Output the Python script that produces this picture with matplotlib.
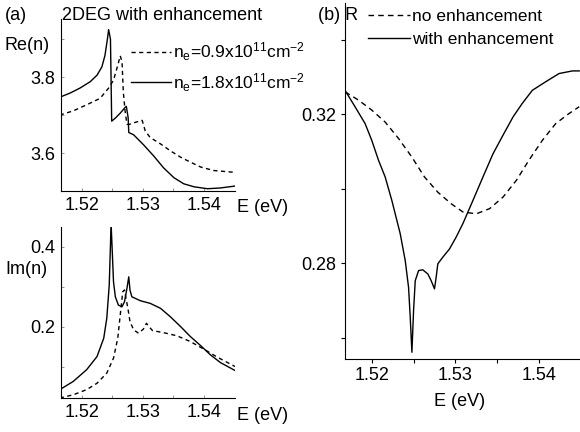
import numpy as np
import matplotlib
matplotlib.use('Agg')
import matplotlib.pyplot as plt
from matplotlib.lines import Line2D

plt.rcParams['font.family'] = ['Liberation Sans', 'DejaVu Sans']
plt.rcParams['mathtext.fontset'] = 'custom'
plt.rcParams['mathtext.rm'] = 'Liberation Sans'
plt.rcParams['mathtext.it'] = 'Liberation Sans'
plt.rcParams['font.size'] = 13

# Re(n), n_e = 1.8e11 (solid)
re_hi_E = [1.5164, 1.5181, 1.5197, 1.5214, 1.5225, 1.5233, 1.5238, 1.5242, 1.5244, 1.5247,
           1.5248, 1.5249, 1.5255, 1.5263, 1.5271, 1.5273, 1.5276, 1.5277, 1.5285, 1.5301,
           1.5318, 1.5334, 1.5351, 1.5367, 1.5384, 1.5406, 1.5427, 1.5451]
re_hi = [3.747, 3.758, 3.771, 3.788, 3.805, 3.827, 3.857, 3.900, 3.925, 3.900,
         3.797, 3.684, 3.692, 3.705, 3.720, 3.723, 3.693, 3.654, 3.648, 3.622,
         3.592, 3.561, 3.535, 3.519, 3.511, 3.506, 3.508, 3.513]
# Re(n), n_e = 0.9e11 (dashed)
re_lo_E = [1.5164, 1.5186, 1.5208, 1.5230, 1.5244, 1.5252, 1.5259, 1.5263, 1.5266, 1.5268,
           1.5271, 1.5274, 1.5277, 1.5288, 1.5299, 1.5304, 1.5312, 1.5329, 1.5345, 1.5362,
           1.5378, 1.5395, 1.5416, 1.5451]
re_lo = [3.700, 3.711, 3.727, 3.744, 3.771, 3.792, 3.831, 3.856, 3.840, 3.762,
         3.710, 3.676, 3.675, 3.681, 3.686, 3.658, 3.641, 3.624, 3.606, 3.589,
         3.576, 3.563, 3.554, 3.549]

# Im(n), solid
im_hi_E = [1.5164, 1.5186, 1.5208, 1.5225, 1.5236, 1.5241, 1.5245, 1.5247, 1.5248, 1.5250,
           1.5252, 1.5255, 1.5260, 1.5266, 1.5270, 1.5274, 1.5277, 1.5279, 1.5282, 1.5296,
           1.5312, 1.5329, 1.5345, 1.5362, 1.5378, 1.5395, 1.5411, 1.5427, 1.5451]
im_hi = [0.042, 0.0625, 0.092, 0.125, 0.171, 0.221, 0.304, 0.404, 0.46, 0.3875,
         0.3125, 0.275, 0.254, 0.250, 0.2625, 0.296, 0.325, 0.2917, 0.275, 0.265,
         0.2585, 0.246, 0.225, 0.200, 0.175, 0.152, 0.129, 0.110, 0.090]
# Im(n), dashed
im_lo_E = [1.5164, 1.5186, 1.5208, 1.5225, 1.5241, 1.5252, 1.5259, 1.5263, 1.5266, 1.5267,
           1.5270, 1.5272, 1.5276, 1.5279, 1.5285, 1.5293, 1.5301, 1.5306, 1.5310, 1.5316,
           1.5334, 1.5356, 1.5378, 1.5400, 1.5422, 1.5451]
im_lo = [0.021, 0.029, 0.042, 0.058, 0.0835, 0.121, 0.171, 0.229, 0.271, 0.2875,
         0.292, 0.275, 0.242, 0.2125, 0.192, 0.1835, 0.194, 0.2085, 0.200, 0.190,
         0.185, 0.177, 0.1625, 0.1435, 0.1235, 0.100]

# R, no enhancement (dashed)
r_no_E = [1.5168, 1.5184, 1.5200, 1.5216, 1.5232, 1.5248, 1.5263, 1.5279, 1.5295, 1.5309,
          1.5325, 1.5341, 1.5357, 1.5373, 1.5388, 1.5404, 1.5420, 1.5436, 1.5448]
r_no = [0.3260, 0.3238, 0.3211, 0.3179, 0.3135, 0.3085, 0.3032, 0.2991, 0.2960, 0.2938,
        0.2933, 0.2947, 0.2978, 0.3023, 0.3077, 0.3130, 0.3175, 0.3202, 0.3220]
# R, with enhancement (solid)
r_with_E = [1.5168, 1.5180, 1.5192, 1.5200, 1.5208, 1.5216, 1.5224, 1.5234, 1.5240, 1.5244,
            1.5246, 1.5248, 1.5250, 1.5252, 1.5256, 1.5261, 1.5267, 1.5271, 1.5275, 1.5277,
            1.5279, 1.5285, 1.5293, 1.5301, 1.5309, 1.5321, 1.5333, 1.5345, 1.5357, 1.5369,
            1.5380, 1.5392, 1.5408, 1.5424, 1.5440, 1.5448]
r_with = [0.3264, 0.3220, 0.3175, 0.3130, 0.3077, 0.3032, 0.2969, 0.2880, 0.2808, 0.2736,
          0.2656, 0.2562, 0.2674, 0.2754, 0.2781, 0.2783, 0.2772, 0.2754, 0.2732, 0.2763,
          0.2799, 0.2817, 0.2839, 0.2871, 0.2907, 0.2969, 0.3032, 0.3094, 0.3144, 0.3193,
          0.3229, 0.3264, 0.3287, 0.3309, 0.3316, 0.3316]

W, H = 580, 432
fig = plt.figure(figsize=(W / 100, H / 100), dpi=100)

def box(x0, y0, x1, y1):
    return [x0 / W, 1 - y1 / H, (x1 - x0) / W, (y1 - y0) / H]

dash = (0, (3, 2.5))
lw = 1.0

ax1 = fig.add_axes(box(61, 19, 235, 191))
ax2 = fig.add_axes(box(61, 227, 235, 398))
ax3 = fig.add_axes(box(345, 3, 580, 359))

for ax in (ax1, ax2, ax3):
    ax.spines['top'].set_visible(False)
    ax.spines['right'].set_visible(False)
    ax.set_xlim(1.5166, 1.5451)
    ax.set_xticks([1.52, 1.53, 1.54])
    ax.set_xticklabels(['1.52', '1.53', '1.54'])
    ax.set_xticks([1.525, 1.535], minor=True)

ax1.plot(re_lo_E, re_lo, color='k', lw=lw, linestyle=dash)
ax1.plot(re_hi_E, re_hi, color='k', lw=lw)
ax1.set_ylim(3.5, 3.953)
ax1.set_yticks([3.6, 3.8])
ax1.set_yticklabels(['3.6', '3.8'])
ax1.set_yticks([3.7, 3.9], minor=True)

ax2.plot(im_lo_E, im_lo, color='k', lw=lw, linestyle=dash)
ax2.plot(im_hi_E, im_hi, color='k', lw=lw)
ax2.set_ylim(0.021, 0.45)
ax2.set_yticks([0.2, 0.4])
ax2.set_yticklabels(['0.2', '0.4'])
ax2.set_yticks([0.1, 0.3], minor=True)

for ax in (ax1, ax2):
    ax.tick_params(which='both', direction='in', length=2.5, width=0.6, color='0.5', pad=4)

ax3.plot(r_no_E, r_no, color='k', lw=lw, linestyle=(0, (4, 3)))
ax3.plot(r_with_E, r_with, color='k', lw=lw)
ax3.set_xlim(1.5168, 1.5449)
ax3.set_ylim(0.2544, 0.3498)
ax3.set_yticks([0.28, 0.32])
ax3.set_yticklabels(['0.28', '0.32'])
ax3.set_yticks([0.26, 0.30, 0.34], minor=True)
ax3.tick_params(which='both', direction='out', length=3, width=0.8, pad=3)

# texts
fig.text(5 / W, 1 - 15 / H, '(a)', va='center', ha='left')
fig.text(62 / W, 1 - 15 / H, '2DEG with enhancement', va='center', ha='left')
fig.text(5 / W, 1 - 45 / H, 'Re(n)', va='center', ha='left')
fig.text(5 / W, 1 - 270 / H, 'Im(n)', va='center', ha='left')
fig.text(237 / W, 1 - 207 / H, 'E (eV)', va='center', ha='left')
fig.text(237 / W, 1 - 415 / H, 'E (eV)', va='center', ha='left')
fig.text(318 / W, 1 - 15 / H, '(b) R', va='center', ha='left')
fig.text(460 / W, 1 - 402 / H, 'E (eV)', va='center', ha='center')

h_lo = Line2D([], [], color='k', lw=lw, linestyle=dash)
h_hi = Line2D([], [], color='k', lw=lw)
fig.legend([h_lo, h_hi],
           [r'n$_\mathrm{e}$=0.9x10$^{11}$cm$^{-2}$', r'n$_\mathrm{e}$=1.8x10$^{11}$cm$^{-2}$'],
           loc='upper left', bbox_to_anchor=(122 / W, 1 - 32 / H), frameon=False,
           handlelength=2.3, handletextpad=0.15, labelspacing=0.45, borderpad=0, fontsize=12.5)

h_no = Line2D([], [], color='k', lw=lw, linestyle=(0, (4, 3)))
h_with = Line2D([], [], color='k', lw=lw)
ax3.legend([h_no, h_with], ['no enhancement', 'with enhancement'],
           loc='upper left', bbox_to_anchor=(368 / W, 1 - 9 / H), bbox_transform=fig.transFigure,
           frameon=False, handlelength=2.4, handletextpad=0.15, labelspacing=0.45,
           borderpad=0, borderaxespad=0, fontsize=12.5)

fig.savefig('out.png', dpi=100)
